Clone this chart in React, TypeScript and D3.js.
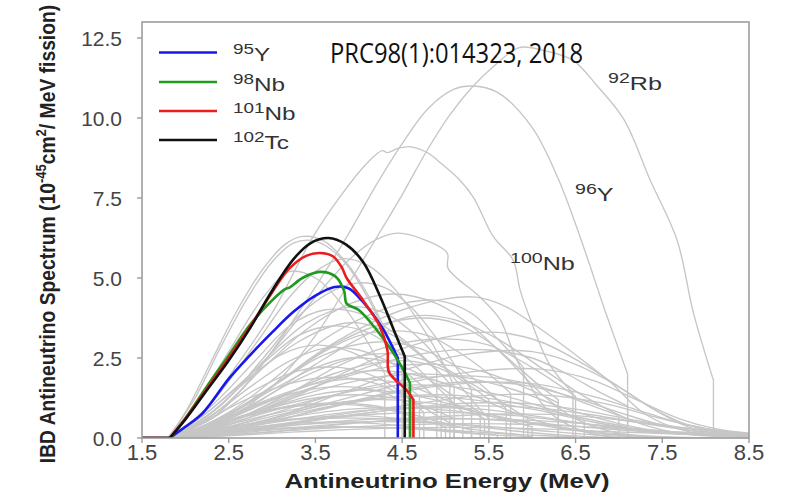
import React from "react";
import * as d3 from "d3";

type Pt = [number, number];

// Axis ticks
const xTicks = [1.5, 2.5, 3.5, 4.5, 5.5, 6.5, 7.5, 8.5];
const yTicks = [0, 2.5, 5, 7.5, 10, 12.5];
const yTickLabels = ["0.0", "2.5", "5.0", "7.5", "10.0", "12.5"];

// Highlighted isotopes
const legendNames = [
  { sup: "95", main: "Y" },
  { sup: "98", main: "Nb" },
  { sup: "101", main: "Nb" },
  { sup: "102", main: "Tc" },
];
const legendColors = ["#1717ee", "#1f9a1f", "#ec1c1c", "#111111"];

const y95: Pt[] = [[1.82,0],[2.0,0.35],[2.2,0.78],[2.5,1.85],[2.75,2.6],[3.0,3.3],[3.25,3.95],[3.5,4.45],[3.72,4.72],[3.88,4.68],[4.05,4.25],[4.27,3.45],[4.45,2.5],[4.45,0]];
const nb98: Pt[] = [[1.82,0],[2.0,0.62],[2.25,1.62],[2.5,2.58],[2.75,3.55],[3.0,4.3],[3.15,4.65],[3.2,4.7],[3.35,5.0],[3.55,5.19],[3.73,5.05],[3.83,4.6],[3.86,4.2],[4.0,4.0],[4.2,3.4],[4.4,2.65],[4.53,2.05],[4.59,1.72],[4.59,0]];
const nb101: Pt[] = [[1.82,0],[2.0,0.6],[2.25,1.55],[2.5,2.5],[2.75,3.5],[3.0,4.55],[3.2,5.3],[3.4,5.7],[3.55,5.78],[3.7,5.68],[3.8,5.35],[3.86,5.0],[4.05,4.3],[4.24,3.5],[4.33,2.75],[4.35,2.05],[4.55,1.5],[4.63,1.2],[4.63,0]];
const tc102: Pt[] = [[1.82,0],[2.0,0.58],[2.25,1.5],[2.5,2.42],[2.75,3.45],[3.0,4.6],[3.25,5.6],[3.45,6.1],[3.65,6.25],[3.85,6.05],[4.05,5.5],[4.25,4.4],[4.4,3.4],[4.53,2.55],[4.53,0]];
const colorCurves = [y95, nb98, nb101, tc102];

// Labelled grey isotopes
const rb92: Pt[] = [[1.8,0],[2.4,0.5],[3.0,1.6],[3.5,3.2],[3.9,4.9],[4.21,6.28],[4.5,7.6],[4.79,9.0],[5.05,10.1],[5.32,11.0],[5.55,11.6],[5.85,12.2],[6.15,12.1],[6.47,11.8],[6.75,11.0],[7.06,9.94],[7.36,8.06],[7.67,6.19],[7.86,3.9],[8.09,1.8],[8.09,0]];
const y96: Pt[] = [[1.8,0],[2.3,0.6],[2.8,2.0],[3.3,3.9],[3.86,6.28],[4.2,7.9],[4.5,9.2],[4.8,10.3],[5.1,10.9],[5.3,11.0],[5.6,10.8],[6.0,9.7],[6.3,8.1],[6.55,6.3],[6.85,3.9],[7.1,2.0],[7.1,0]];
const nb100: Pt[] = [[1.85,0],[2.2,0.8],[2.6,2.3],[3.0,3.9],[3.47,6.28],[3.8,7.6],[4.1,8.6],[4.27,8.98],[4.33,8.92],[4.45,9.05],[4.6,9.1],[4.8,8.9],[4.94,8.6],[5.15,8.1],[5.32,7.53],[5.55,6.3],[5.78,5.56],[5.86,4.63],[5.98,3.7],[6.2,2.3],[6.47,1.4],[6.47,0]];

const grayCurves: Pt[][] = [
  rb92, y96, nb100,
  [[1.8,0],[2.0,0.8],[2.3,2.4],[2.6,4.0],[2.9,5.3],[3.15,6.05],[3.35,6.3],[3.6,6.15],[3.85,5.5],[4.1,4.5],[4.35,3.1],[4.45,2.5],[4.45,0]],
  [[1.8,0],[2.1,1.2],[2.4,2.8],[2.7,4.3],[3.0,5.5],[3.25,6.1],[3.5,6.15],[3.8,5.6],[4.1,4.4],[4.35,3.0],[4.5,2.2],[4.5,0]],
  [[1.85,0],[2.3,1.1],[2.8,2.9],[3.2,4.4],[3.5,5.2],[3.8,5.6],[4.1,5.4],[4.4,4.7],[4.7,3.6],[5.0,2.2],[5.1,1.6],[5.1,0]],
  [[1.9,0],[2.5,1.1],[3.0,2.7],[3.5,4.4],[3.9,5.6],[4.2,6.2],[4.45,6.4],[4.75,6.2],[5.02,5.78],[5.03,5.3],[5.4,4.4],[5.63,3.7],[5.78,2.7],[5.94,1.8],[6.2,0.8],[6.6,0.2],[7.0,0]],
  [[1.8,0],[2.1,1.0],[2.5,2.7],[2.9,4.4],[3.2,5.2],[3.5,5.0],[3.8,4.2],[4.1,3.0],[4.3,2.0],[4.3,0]],
  [[1.85,0],[2.4,1.0],[2.9,2.5],[3.3,3.8],[3.7,4.6],[4.0,4.85],[4.3,4.7],[4.6,4.1],[4.9,3.1],[5.2,1.9],[5.3,1.5],[5.3,0]],
  [[1.9,0],[2.5,0.7],[3.0,1.6],[3.5,2.6],[4.0,3.4],[4.5,4.0],[5.0,4.35],[5.35,4.4],[5.7,4.1],[6.1,3.4],[6.5,2.6],[6.9,1.75],[7.3,0.75],[7.8,0.2],[8.5,0.02]],
  [[1.85,0],[2.4,0.9],[2.9,2.2],[3.4,3.4],[3.9,4.2],[4.4,4.5],[4.9,4.2],[5.3,3.5],[5.7,2.5],[6.1,1.4],[6.5,0.6],[7.0,0.15],[7.6,0]],
  [[1.8,0],[2.3,1.0],[2.8,2.4],[3.2,3.5],[3.6,4.0],[4.0,3.9],[4.4,3.3],[4.8,2.4],[5.05,1.7],[5.05,0]],
  [[1.9,0],[2.5,0.8],[3.0,1.8],[3.5,2.9],[4.0,3.7],[4.5,4.2],[4.9,4.3],[5.3,3.9],[5.6,3.1],[5.9,2.2],[5.9,0]],
  [[1.9,0],[2.5,0.6],[3.0,1.4],[3.5,2.3],[4.0,3.1],[4.6,3.8],[5.1,3.7],[5.6,3.1],[6.1,2.2],[6.6,1.3],[7.1,0.6],[7.6,0.2],[8.5,0.03]],
  [[1.85,0],[2.3,0.9],[2.8,2.1],[3.3,3.2],[3.7,3.5],[4.1,3.3],[4.5,2.6],[4.9,1.6],[5.2,0.8],[5.2,0]],
  [[2.0,0],[2.6,0.5],[3.2,1.2],[3.8,2.0],[4.4,2.7],[5.0,3.15],[5.6,3.3],[6.1,3.0],[6.6,2.3],[7.0,1.6],[7.4,0.9],[7.8,0.35],[8.3,0.05]],
  [[1.9,0],[2.4,0.6],[3.0,1.6],[3.6,2.6],[4.2,3.0],[4.7,2.8],[5.2,2.1],[5.6,1.2],[5.7,0.9],[5.7,0]],
  [[1.85,0],[2.3,0.8],[2.8,2.0],[3.3,3.0],[3.7,3.5],[4.0,3.6],[4.4,3.2],[4.7,2.6],[4.9,2.1],[4.9,0]],
  [[2.0,0],[2.6,0.6],[3.2,1.4],[3.8,2.3],[4.4,2.9],[5.0,3.1],[5.5,2.9],[6.0,2.2],[6.5,1.3],[6.5,0]],
  [[1.8,0],[2.2,0.7],[2.7,1.8],[3.1,2.6],[3.5,2.9],[3.9,2.7],[4.3,2.1],[4.7,1.3],[4.7,0]],
  [[1.85,0],[2.4,1.0],[2.9,2.4],[3.4,3.6],[3.9,4.1],[4.3,3.9],[4.7,3.1],[5.0,2.2],[5.3,1.2],[5.5,0.6],[5.5,0]],
  [[2.2,0],[3.0,0.6],[3.8,1.4],[4.5,2.1],[5.2,2.6],[6.0,2.7],[6.5,2.3],[7.0,1.6],[7.4,0.9],[7.8,0.4],[8.3,0.1],[8.5,0.05]],
  [[1.9,0],[2.5,0.6],[3.1,1.3],[3.7,2.0],[4.2,2.35],[4.6,2.4],[5.0,2.1],[5.3,1.6],[5.5,1.2],[5.5,0]],
  [[1.85,0],[2.4,0.5],[3.0,1.2],[3.6,1.8],[4.1,2.1],[4.6,2.0],[5.1,1.6],[5.6,1.0],[6.1,0.5],[6.6,0.2],[7.2,0.05],[8.0,0]],
  [[1.9,0],[2.6,0.6],[3.3,1.3],[4.0,1.8],[4.6,2.0],[5.2,1.9],[5.8,1.5],[6.4,0.9],[7.0,0.45],[7.6,0.15],[8.5,0.02]],
  [[1.8,0],[2.2,0.5],[2.7,1.2],[3.2,1.7],[3.7,1.9],[4.2,1.7],[4.6,1.2],[4.9,0.7],[5.1,0.4],[5.1,0]],
  [[2.0,0],[2.8,0.4],[3.6,0.9],[4.4,1.4],[5.2,1.7],[6.0,1.7],[6.7,1.3],[7.3,0.8],[7.8,0.4],[8.5,0.08]],
  [[1.85,0],[2.3,0.4],[2.9,0.9],[3.5,1.35],[4.0,1.5],[4.5,1.4],[5.0,1.1],[5.5,0.7],[6.0,0.35],[6.0,0]],
  [[1.9,0],[2.5,0.35],[3.2,0.8],[3.9,1.15],[4.6,1.3],[5.3,1.2],[6.0,0.9],[6.7,0.5],[7.4,0.2],[8.5,0.04]],
  [[1.8,0],[2.2,0.3],[2.7,0.7],[3.2,1.0],[3.7,1.1],[4.2,1.0],[4.6,0.75],[5.0,0.45],[5.3,0.25],[5.3,0]],
  [[2.0,0],[3.0,0.35],[4.0,0.75],[5.0,1.05],[5.8,1.1],[6.5,0.9],[7.2,0.55],[7.8,0.3],[8.5,0.1]],
  [[1.85,0],[2.5,0.3],[3.2,0.65],[3.9,0.9],[4.5,0.95],[5.1,0.85],[5.7,0.6],[6.3,0.35],[6.9,0.15],[7.5,0.04],[8.2,0]],
  [[1.9,0],[2.6,0.25],[3.4,0.55],[4.2,0.75],[5.0,0.8],[5.8,0.7],[6.6,0.45],[7.4,0.2],[8.5,0.05]],
  [[1.8,0],[2.3,0.25],[2.9,0.5],[3.5,0.65],[4.0,0.7],[4.5,0.6],[5.0,0.4],[5.5,0.2],[5.9,0.1],[5.9,0]],
  [[2.0,0],[2.8,0.2],[3.6,0.4],[4.4,0.55],[5.2,0.6],[6.0,0.55],[6.8,0.4],[7.6,0.2],[8.5,0.06]],
  [[1.85,0],[2.4,0.6],[3.0,1.5],[3.5,2.2],[3.9,2.5],[4.3,2.4],[4.7,2.0],[5.1,1.3],[5.4,0.8],[5.4,0]],
  [[1.9,0],[2.5,0.5],[3.1,1.2],[3.7,1.8],[4.3,2.2],[4.9,2.3],[5.4,2.1],[5.9,1.6],[6.3,1.1],[6.3,0]],
  [[2.1,0],[2.9,0.3],[3.7,0.7],[4.5,1.0],[5.3,1.3],[6.1,1.35],[6.8,1.1],[7.5,0.6],[8.0,0.3],[8.5,0.12]],
  [[1.8,0],[2.3,0.45],[2.9,1.1],[3.4,1.5],[3.9,1.6],[4.3,1.4],[4.6,1.0],[4.6,0]],
  [[1.9,0],[2.7,0.4],[3.5,0.9],[4.3,1.25],[5.0,1.35],[5.6,1.2],[6.2,0.85],[6.8,0.5],[7.1,0.35],[7.1,0]],
  [[2.0,0],[2.8,0.15],[3.6,0.3],[4.4,0.4],[5.2,0.45],[6.0,0.42],[6.8,0.33],[7.6,0.2],[8.5,0.08]],
  [[1.85,0],[2.5,0.2],[3.2,0.4],[3.9,0.5],[4.6,0.5],[5.3,0.4],[6.0,0.25],[6.7,0.1],[7.4,0.02]],
  [[1.8,0],[2.4,0.15],[3.0,0.3],[3.6,0.35],[4.2,0.33],[4.8,0.25],[5.4,0.12],[6.0,0.04]],
  [[1.9,0],[2.6,0.8],[3.2,1.7],[3.7,2.3],[4.1,2.6],[4.5,2.6],[4.9,2.3],[5.3,1.7],[5.6,1.2],[5.95,0.6],[5.95,0]],
  [[2.0,0],[2.7,0.5],[3.4,1.1],[4.1,1.6],[4.8,1.9],[5.5,1.9],[6.1,1.6],[6.6,1.1],[7.0,0.7],[7.0,0]],
  [[2.1,0],[3.0,0.2],[3.9,0.45],[4.8,0.65],[5.7,0.75],[6.5,0.7],[7.2,0.5],[7.8,0.3],[8.5,0.14]],
  [[1.85,0],[2.3,0.7],[2.8,1.7],[3.2,2.4],[3.6,2.8],[4.0,2.75],[4.4,2.3],[4.7,1.7],[4.95,1.1],[4.95,0]],
  [[1.8,0],[2.3,0.6],[2.8,1.5],[3.3,2.1],[3.8,2.2],[4.2,1.9],[4.5,1.4],[4.75,0.8],[4.75,0]],
  [[1.9,0],[2.5,0.45],[3.2,1.0],[3.9,1.45],[4.5,1.65],[5.1,1.6],[5.7,1.3],[6.2,0.9],[6.6,0.55],[6.6,0]],
  [[2.0,0],[2.9,0.55],[3.8,1.2],[4.6,1.75],[5.4,2.1],[6.1,2.15],[6.7,1.8],[7.2,1.2],[7.7,0.6],[8.1,0.3],[8.5,0.15]],
  [[1.85,0],[2.4,0.35],[3.0,0.75],[3.6,1.05],[4.2,1.2],[4.8,1.1],[5.4,0.8],[6.0,0.45],[6.6,0.2],[7.3,0.05],[8.0,0]],
  [[1.9,0],[2.7,0.7],[3.5,1.6],[4.2,2.3],[4.9,2.7],[5.5,2.75],[6.0,2.5],[6.4,2.0],[6.8,1.4],[7.1,1.0],[7.1,0]],
  [[1.8,0],[2.2,0.2],[2.8,0.45],[3.4,0.6],[4.0,0.62],[4.6,0.55],[5.2,0.4],[5.8,0.22],[6.4,0.08],[7.0,0]],
  [[2.0,0],[2.7,0.1],[3.5,0.22],[4.3,0.3],[5.1,0.33],[5.9,0.3],[6.7,0.22],[7.5,0.14],[8.5,0.06]],
  [[1.85,0],[2.5,0.75],[3.1,1.8],[3.6,2.7],[4.0,3.2],[4.4,3.35],[4.8,3.2],[5.2,2.6],[5.5,2.0],[5.75,1.4],[5.75,0]],
  [[1.9,0],[2.6,0.9],[3.2,2.0],[3.7,2.9],[4.2,3.5],[4.7,3.75],[5.1,3.6],[5.5,3.0],[5.8,2.3],[6.1,1.6],[6.3,1.2],[6.3,0]],
  [[1.85,0],[2.3,0.12],[2.9,0.25],[3.5,0.32],[4.1,0.34],[4.7,0.3],[5.3,0.2],[5.9,0.1],[6.5,0.03]],
  [[1.9,0],[2.5,0.5],[3.0,0.95],[3.5,1.25],[4.0,1.35],[4.4,1.25],[4.8,0.95],[5.1,0.6],[5.1,0]],
  [[1.8,0],[2.3,0.35],[2.8,0.75],[3.3,1.0],[3.8,1.05],[4.3,0.9],[4.7,0.6],[5.0,0.35],[5.0,0]],
  [[2.0,0],[2.6,0.3],[3.3,0.6],[4.0,0.85],[4.7,0.95],[5.4,0.9],[6.0,0.7],[6.6,0.45],[7.2,0.25],[7.9,0.1],[8.5,0.05]],
  [[1.9,0],[2.5,0.18],[3.2,0.38],[3.9,0.55],[4.6,0.62],[5.3,0.6],[6.0,0.48],[6.7,0.32],[7.4,0.18],[8.1,0.08],[8.5,0.05]],
  [[1.85,0],[2.4,0.55],[3.0,1.25],[3.5,1.7],[4.0,1.85],[4.5,1.7],[4.9,1.3],[5.2,0.95],[5.45,0.6],[5.45,0]],
  [[2.1,0],[2.9,0.45],[3.7,1.0],[4.5,1.5],[5.2,1.75],[5.9,1.65],[6.5,1.25],[7.0,0.8],[7.5,0.4],[8.0,0.15],[8.5,0.05]],
  [[1.8,0],[2.2,0.15],[2.7,0.32],[3.2,0.45],[3.7,0.5],[4.2,0.45],[4.7,0.32],[5.2,0.18],[5.6,0.08],[5.6,0]],
  [[2.0,0],[2.8,0.28],[3.6,0.6],[4.4,0.88],[5.2,1.0],[6.0,0.95],[6.7,0.72],[7.3,0.45],[7.9,0.22],[8.5,0.09]],
];

// Isotope labels inside the plot
const isoLabels = [
  { sup: "92", main: "Rb", x: 608, y: 90 },
  { sup: "96", main: "Y", x: 575, y: 201 },
  { sup: "100", main: "Nb", x: 510, y: 270 },
];

const W = 787;
const H = 492;
const x = d3.scaleLinear().domain([1.5, 8.5]).range([142, 749]);
const y = d3.scaleLinear().domain([0, 13]).range([438, 22]);

const smooth = d3
  .line<Pt>()
  .x((d) => x(d[0]))
  .y((d) => y(d[1]))
  .curve(d3.curveCatmullRom.alpha(0.5));

function curvePath(pts: Pt[], lead: boolean): string {
  let body = pts;
  let tail = "";
  const n = pts.length;
  if (n > 2 && pts[n - 1][0] === pts[n - 2][0]) {
    body = pts.slice(0, -1);
    tail = `L${x(pts[n - 1][0])},${y(pts[n - 1][1])}`;
  }
  let d = smooth(body) || "";
  if (lead) d = `M${x(1.5)},${y(0)}L` + d.slice(1);
  return d + tail;
}

function IsoLabel({ sup, main, tx, ty, sx }: { sup: string; main: string; tx: number; ty: number; sx: number }) {
  return (
    <g transform={`translate(${tx},${ty}) scale(${sx},1)`}>
      <text fontFamily="'Liberation Sans', Arial, sans-serif" fill="#333">
        <tspan fontSize={14} dy={-7}>{sup}</tspan>
        <tspan fontSize={18} dy={7}>{main}</tspan>
      </text>
    </g>
  );
}

export default function App() {
  const legendYs = [52.5, 82, 111, 140];
  return (
    <svg width={W} height={H} style={{ position: "absolute", left: 0, top: 0, background: "#fff" }}>
      <defs>
        <clipPath id="plot">
          <rect x={142} y={22} width={607} height={416} />
        </clipPath>
      </defs>
      <rect x={0} y={0} width={W} height={H} fill="#fff" />
      <g clipPath="url(#plot)" fill="none" strokeLinejoin="round">
        {grayCurves.map((c, i) => (
          <path key={i} d={curvePath(c, false)} stroke="#c6c6c6" strokeWidth={1.35} />
        ))}
        {colorCurves.map((c, i) => (
          <path key={i} d={curvePath(c, true)} stroke={legendColors[i]} strokeWidth={2.6} />
        ))}
      </g>
      <rect x={142} y={22} width={607} height={416} fill="none" stroke="#9d9d9d" strokeWidth={1.6} />
      {yTicks.map((t, i) => (
        <g key={t}>
          <line x1={137} x2={142} y1={y(t)} y2={y(t)} stroke="#9d9d9d" strokeWidth={1.4} />
          <text x={122} y={y(t) + 7.5} textAnchor="end" fontFamily="'Liberation Sans', Arial, sans-serif" fontSize={21} fill="#444">
            {yTickLabels[i]}
          </text>
        </g>
      ))}
      {xTicks.map((t) => (
        <g key={t}>
          <line x1={x(t)} x2={x(t)} y1={438} y2={443} stroke="#9d9d9d" strokeWidth={1.4} />
          <text x={x(t)} y={460} textAnchor="middle" fontFamily="'Liberation Sans', Arial, sans-serif" fontSize={22} fill="#444">
            {t.toFixed(1)}
          </text>
        </g>
      ))}
      <text x={447} y={488} textAnchor="middle" fontFamily="'Liberation Sans', Arial, sans-serif" fontWeight="bold" fontSize={20} fill="#222" textLength={325} lengthAdjust="spacingAndGlyphs">
        Antineutrino Energy (MeV)
      </text>
      <g transform="translate(55,234) rotate(-90) scale(1,1.12)">
        <text textAnchor="middle" fontFamily="'Liberation Sans', Arial, sans-serif" fontWeight="bold" fontSize={19.3} fill="#222">
          <tspan>IBD Antineutrino Spectrum (10</tspan>
          <tspan fontSize={13} dy={-8}>-45</tspan>
          <tspan dy={8}>cm</tspan>
          <tspan fontSize={13} dy={-8}>2</tspan>
          <tspan dy={8}>/ MeV fission)</tspan>
        </text>
      </g>
      {legendNames.map((l, i) => (
        <g key={i}>
          <line x1={159} x2={217} y1={legendYs[i]} y2={legendYs[i]} stroke={legendColors[i]} strokeWidth={2.6} />
          <IsoLabel sup={l.sup} main={l.main} tx={233} ty={legendYs[i] + 8.5} sx={1.35} />
        </g>
      ))}
      {isoLabels.map((l, i) => (
        <IsoLabel key={i} sup={l.sup} main={l.main} tx={l.x} ty={l.y} sx={1.4} />
      ))}
      <text x={330} y={63} fontFamily="'Liberation Sans Narrow', 'Open Sans', sans-serif" fontSize={27} fill="#111" textLength={253} lengthAdjust="spacingAndGlyphs">
        PRC98(1):014323, 2018
      </text>
    </svg>
  );
}
